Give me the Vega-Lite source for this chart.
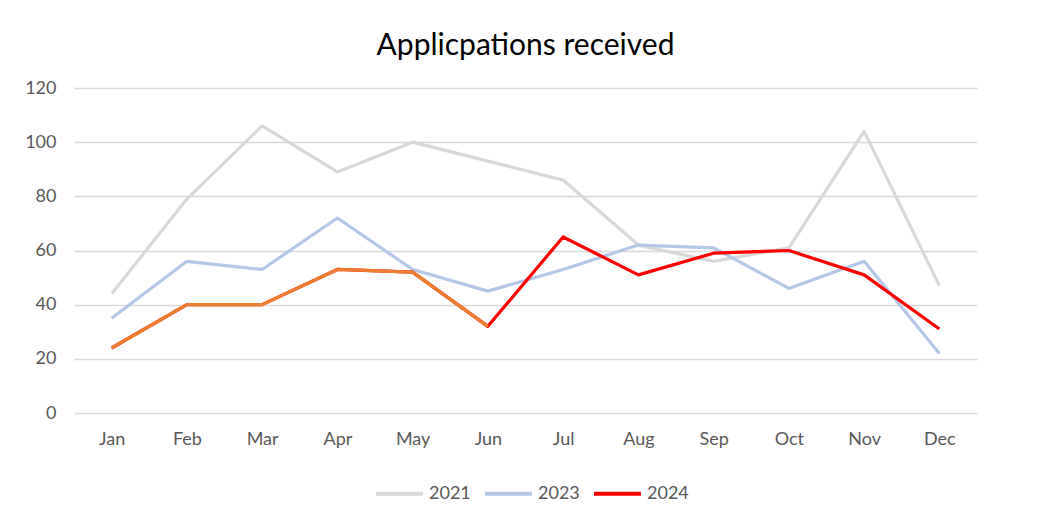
{
  "$schema": "https://vega.github.io/schema/vega-lite/v6.json",
  "autosize": "none",
  "width": 903,
  "height": 325,
  "padding": {"left": 74, "top": 88, "right": 74, "bottom": 109},
  "background": "white",
  "config": {
    "font": "Lato",
    "view": {"stroke": null}
  },
  "title": {
    "text": "Applicpations received",
    "fontSize": 30,
    "fontWeight": "normal",
    "color": "#000000",
    "font": "Lato",
    "offset": 18
  },
  "data": {
    "values": [
      {"month": "Jan", "year": "2021", "value": 44},
      {"month": "Feb", "year": "2021", "value": 79},
      {"month": "Mar", "year": "2021", "value": 106},
      {"month": "Apr", "year": "2021", "value": 89},
      {"month": "May", "year": "2021", "value": 100},
      {"month": "Jun", "year": "2021", "value": 93},
      {"month": "Jul", "year": "2021", "value": 86},
      {"month": "Aug", "year": "2021", "value": 62},
      {"month": "Sep", "year": "2021", "value": 56},
      {"month": "Oct", "year": "2021", "value": 61},
      {"month": "Nov", "year": "2021", "value": 104},
      {"month": "Dec", "year": "2021", "value": 47},
      {"month": "Jan", "year": "2023", "value": 35},
      {"month": "Feb", "year": "2023", "value": 56},
      {"month": "Mar", "year": "2023", "value": 53},
      {"month": "Apr", "year": "2023", "value": 72},
      {"month": "May", "year": "2023", "value": 53},
      {"month": "Jun", "year": "2023", "value": 45},
      {"month": "Jul", "year": "2023", "value": 53},
      {"month": "Aug", "year": "2023", "value": 62},
      {"month": "Sep", "year": "2023", "value": 61},
      {"month": "Oct", "year": "2023", "value": 46},
      {"month": "Nov", "year": "2023", "value": 56},
      {"month": "Dec", "year": "2023", "value": 22},
      {"month": "Jan", "year": "2024", "value": 24},
      {"month": "Feb", "year": "2024", "value": 40},
      {"month": "Mar", "year": "2024", "value": 40},
      {"month": "Apr", "year": "2024", "value": 53},
      {"month": "May", "year": "2024", "value": 52},
      {"month": "Jun", "year": "2024", "value": 32},
      {"month": "Jul", "year": "2024", "value": 65},
      {"month": "Aug", "year": "2024", "value": 51},
      {"month": "Sep", "year": "2024", "value": 59},
      {"month": "Oct", "year": "2024", "value": 60},
      {"month": "Nov", "year": "2024", "value": 51},
      {"month": "Dec", "year": "2024", "value": 31}
    ]
  },
  "encoding": {
    "x": {
      "field": "month",
      "type": "ordinal",
      "sort": ["Jan","Feb","Mar","Apr","May","Jun","Jul","Aug","Sep","Oct","Nov","Dec"],
      "scale": {"type": "point", "padding": 0.5},
      "axis": {
        "title": null,
        "domain": false,
        "ticks": false,
        "labelAngle": 0,
        "labelFontSize": 18,
        "labelColor": "#595959",
        "labelPadding": 17,
        "grid": false
      }
    },
    "y": {
      "field": "value",
      "type": "quantitative",
      "scale": {"domain": [0, 120], "nice": false},
      "axis": {
        "title": null,
        "values": [0, 20, 40, 60, 80, 100, 120],
        "domain": false,
        "ticks": false,
        "labelFontSize": 18,
        "labelColor": "#595959",
        "labelPadding": 18,
        "gridColor": "#D9D9D9",
        "gridWidth": 1.3
      }
    }
  },
  "layer": [
    {
      "mark": {"type": "line", "strokeWidth": 3.2, "strokeJoin": "round"},
      "encoding": {
        "color": {
          "field": "year",
          "type": "nominal",
          "scale": {"domain": ["2021", "2023", "2024"], "range": ["#D9D9D9", "#B4C7E7", "#FF0000"]},
          "legend": {
            "title": null,
            "orient": "none",
            "direction": "horizontal",
            "legendX": 300,
            "legendY": 380,
            "symbolType": "stroke",
            "symbolSize": 2200,
            "symbolStrokeWidth": 4,
            "labelFontSize": 18,
            "labelColor": "#595959",
            "columnPadding": 6,
            "labelOffset": 4
          }
        }
      }
    },
    {
      "transform": [
        {"filter": "datum.year == '2024' && indexof(['Jan','Feb','Mar','Apr','May','Jun'], datum.month) >= 0"}
      ],
      "mark": {"type": "line", "strokeWidth": 3.2, "strokeJoin": "round", "color": "#ED7D31"}
    }
  ]
}
